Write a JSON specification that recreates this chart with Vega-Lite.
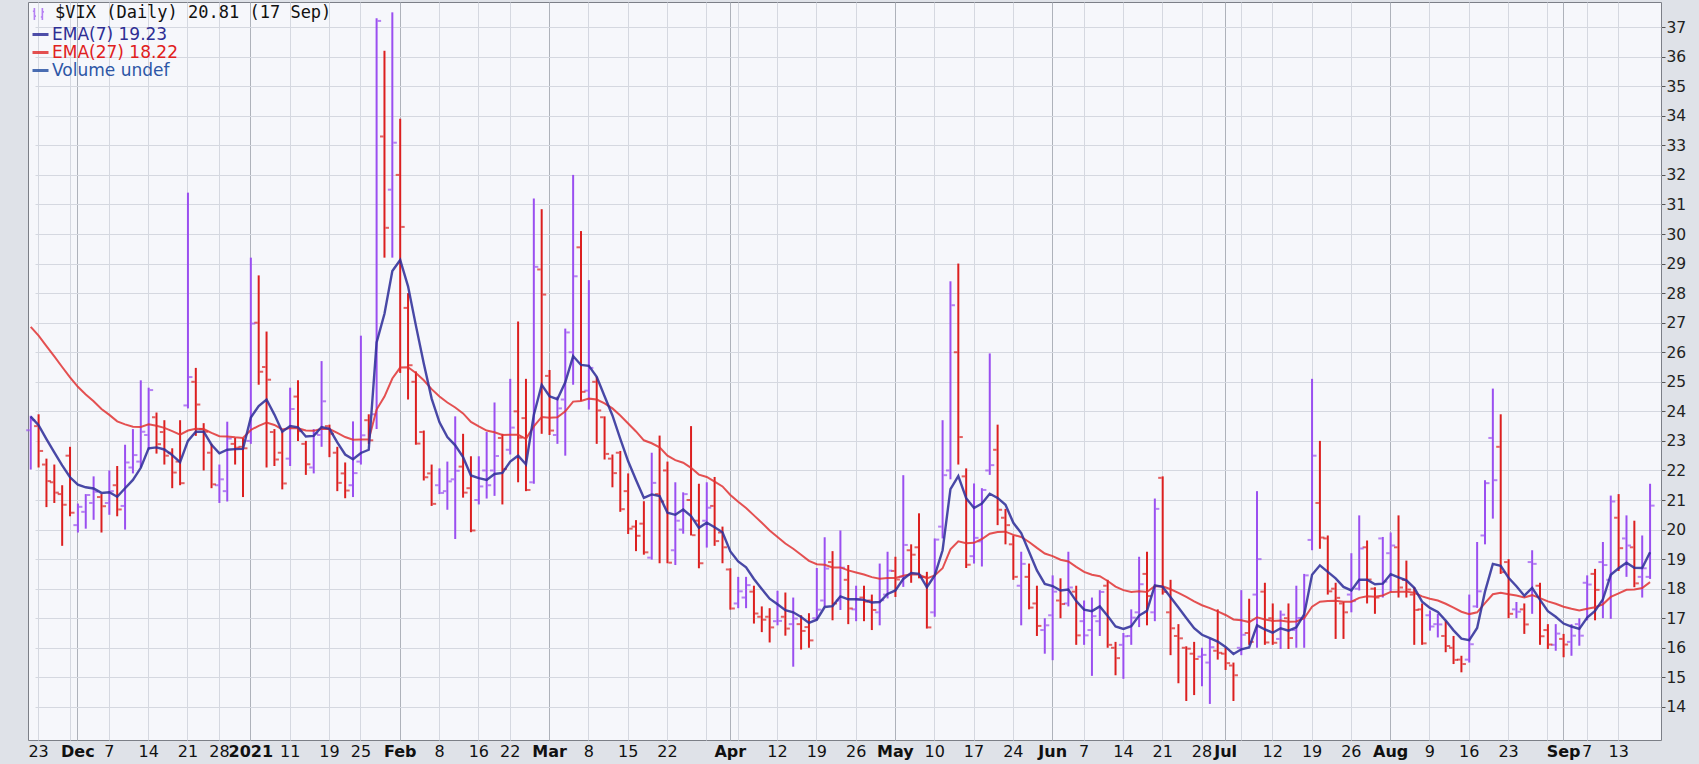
{
"$schema": "https://vega.github.io/schema/vega-lite/v6.json",
"width": 1633,
"height": 738,
"autosize": {"type": "none"},
"padding": {"left": 28, "top": 2, "right": 38, "bottom": 24},
"background": "#dfe2e8",
"config": {"view": {"fill": "#f6f7fb", "stroke": "#7c7f87", "strokeWidth": 1}, "axisY": {"labelOverlap": false}, "axis": {"labelOverlap": false}},
"data": {"values": [
{"date":"2020-11-20","o":23.36,"h":23.85,"l":22.03,"c":23.7,"ema7":23.82,"ema27":26.86,"dir":"up"},
{"date":"2020-11-23","o":23.5,"h":23.9,"l":22.1,"c":22.66,"ema7":23.53,"ema27":26.56,"dir":"down"},
{"date":"2020-11-24","o":22.2,"h":22.4,"l":20.76,"c":21.64,"ema7":23.06,"ema27":26.21,"dir":"down"},
{"date":"2020-11-25","o":21.6,"h":22.2,"l":20.9,"c":21.25,"ema7":22.61,"ema27":25.86,"dir":"down"},
{"date":"2020-11-27","o":21.2,"h":21.5,"l":19.45,"c":20.84,"ema7":22.17,"ema27":25.5,"dir":"down"},
{"date":"2020-11-30","o":22.5,"h":22.8,"l":20.45,"c":20.57,"ema7":21.77,"ema27":25.15,"dir":"down"},
{"date":"2020-12-01","o":20.15,"h":20.88,"l":19.9,"c":20.77,"ema7":21.52,"ema27":24.83,"dir":"up"},
{"date":"2020-12-02","o":20.6,"h":21.2,"l":20.03,"c":21.17,"ema7":21.43,"ema27":24.57,"dir":"up"},
{"date":"2020-12-03","o":20.9,"h":21.8,"l":20.33,"c":21.28,"ema7":21.39,"ema27":24.34,"dir":"up"},
{"date":"2020-12-04","o":21.1,"h":21.2,"l":19.9,"c":20.79,"ema7":21.24,"ema27":24.08,"dir":"down"},
{"date":"2020-12-07","o":20.9,"h":22.0,"l":20.5,"c":21.3,"ema7":21.26,"ema27":23.88,"dir":"up"},
{"date":"2020-12-08","o":21.5,"h":22.15,"l":20.45,"c":20.68,"ema7":21.11,"ema27":23.66,"dir":"down"},
{"date":"2020-12-09","o":20.8,"h":22.87,"l":20.0,"c":22.27,"ema7":21.4,"ema27":23.56,"dir":"up"},
{"date":"2020-12-10","o":22.1,"h":23.4,"l":21.9,"c":22.52,"ema7":21.68,"ema27":23.48,"dir":"up"},
{"date":"2020-12-11","o":22.3,"h":25.05,"l":22.1,"c":23.31,"ema7":22.09,"ema27":23.47,"dir":"up"},
{"date":"2020-12-14","o":23.2,"h":24.8,"l":22.7,"c":24.72,"ema7":22.75,"ema27":23.56,"dir":"up"},
{"date":"2020-12-15","o":23.8,"h":23.96,"l":22.57,"c":22.89,"ema7":22.78,"ema27":23.51,"dir":"down"},
{"date":"2020-12-16","o":23.3,"h":23.7,"l":22.2,"c":22.5,"ema7":22.71,"ema27":23.44,"dir":"down"},
{"date":"2020-12-17","o":22.6,"h":22.75,"l":21.4,"c":21.93,"ema7":22.52,"ema27":23.33,"dir":"down"},
{"date":"2020-12-18","o":22.3,"h":23.7,"l":21.5,"c":21.57,"ema7":22.28,"ema27":23.21,"dir":"down"},
{"date":"2020-12-21","o":24.2,"h":31.4,"l":24.1,"c":25.16,"ema7":23.0,"ema27":23.35,"dir":"up"},
{"date":"2020-12-22","o":25.0,"h":25.47,"l":23.17,"c":24.23,"ema7":23.31,"ema27":23.41,"dir":"down"},
{"date":"2020-12-23","o":23.4,"h":23.6,"l":22.0,"c":23.31,"ema7":23.31,"ema27":23.4,"dir":"down"},
{"date":"2020-12-24","o":22.6,"h":22.9,"l":21.4,"c":21.53,"ema7":22.87,"ema27":23.27,"dir":"down"},
{"date":"2020-12-28","o":21.5,"h":22.2,"l":20.9,"c":21.7,"ema7":22.58,"ema27":23.16,"dir":"up"},
{"date":"2020-12-29","o":21.3,"h":23.65,"l":20.95,"c":23.08,"ema7":22.7,"ema27":23.15,"dir":"up"},
{"date":"2020-12-30","o":22.9,"h":23.1,"l":22.2,"c":22.77,"ema7":22.72,"ema27":23.12,"dir":"down"},
{"date":"2020-12-31","o":22.8,"h":23.1,"l":21.1,"c":22.75,"ema7":22.73,"ema27":23.1,"dir":"down"},
{"date":"2021-01-04","o":23.0,"h":29.2,"l":22.9,"c":26.97,"ema7":23.79,"ema27":23.37,"dir":"up"},
{"date":"2021-01-05","o":27.0,"h":28.6,"l":24.9,"c":25.34,"ema7":24.18,"ema27":23.51,"dir":"down"},
{"date":"2021-01-06","o":25.5,"h":26.7,"l":22.1,"c":25.07,"ema7":24.4,"ema27":23.62,"dir":"down"},
{"date":"2021-01-07","o":23.3,"h":23.4,"l":22.15,"c":22.37,"ema7":23.89,"ema27":23.54,"dir":"down"},
{"date":"2021-01-08","o":22.6,"h":23.36,"l":21.36,"c":21.56,"ema7":23.31,"ema27":23.39,"dir":"down"},
{"date":"2021-01-11","o":22.4,"h":24.8,"l":22.15,"c":24.08,"ema7":23.5,"ema27":23.44,"dir":"up"},
{"date":"2021-01-12","o":24.5,"h":25.05,"l":23.0,"c":23.33,"ema7":23.46,"ema27":23.43,"dir":"down"},
{"date":"2021-01-13","o":22.9,"h":23.0,"l":21.85,"c":22.21,"ema7":23.15,"ema27":23.35,"dir":"down"},
{"date":"2021-01-14","o":22.1,"h":23.4,"l":21.9,"c":23.25,"ema7":23.17,"ema27":23.34,"dir":"up"},
{"date":"2021-01-15","o":23.2,"h":25.7,"l":22.8,"c":24.34,"ema7":23.47,"ema27":23.41,"dir":"up"},
{"date":"2021-01-19","o":23.5,"h":23.55,"l":22.45,"c":23.24,"ema7":23.41,"ema27":23.4,"dir":"down"},
{"date":"2021-01-20","o":22.6,"h":22.8,"l":21.3,"c":21.58,"ema7":22.95,"ema27":23.27,"dir":"down"},
{"date":"2021-01-21","o":21.9,"h":22.27,"l":21.06,"c":21.32,"ema7":22.54,"ema27":23.13,"dir":"down"},
{"date":"2021-01-22","o":21.5,"h":23.66,"l":21.1,"c":21.91,"ema7":22.38,"ema27":23.04,"dir":"up"},
{"date":"2021-01-25","o":22.3,"h":26.56,"l":22.2,"c":23.19,"ema7":22.59,"ema27":23.05,"dir":"up"},
{"date":"2021-01-26","o":23.7,"h":23.9,"l":22.9,"c":23.02,"ema7":22.7,"ema27":23.05,"dir":"down"},
{"date":"2021-01-27","o":23.9,"h":37.3,"l":23.4,"c":37.21,"ema7":26.33,"ema27":24.06,"dir":"up"},
{"date":"2021-01-28","o":33.3,"h":36.2,"l":29.2,"c":30.21,"ema7":27.3,"ema27":24.5,"dir":"down"},
{"date":"2021-01-29","o":31.5,"h":37.5,"l":29.2,"c":33.09,"ema7":28.75,"ema27":25.11,"dir":"up"},
{"date":"2021-02-01","o":32.0,"h":33.9,"l":25.3,"c":30.24,"ema7":29.12,"ema27":25.48,"dir":"down"},
{"date":"2021-02-02","o":27.5,"h":28.0,"l":24.4,"c":25.56,"ema7":28.23,"ema27":25.49,"dir":"down"},
{"date":"2021-02-03","o":25.0,"h":25.35,"l":22.87,"c":22.91,"ema7":26.9,"ema27":25.3,"dir":"down"},
{"date":"2021-02-04","o":23.3,"h":23.35,"l":21.66,"c":21.77,"ema7":25.62,"ema27":25.05,"dir":"down"},
{"date":"2021-02-05","o":21.9,"h":22.2,"l":20.8,"c":20.87,"ema7":24.43,"ema27":24.75,"dir":"down"},
{"date":"2021-02-08","o":21.5,"h":22.07,"l":21.2,"c":21.24,"ema7":23.63,"ema27":24.5,"dir":"up"},
{"date":"2021-02-09","o":21.3,"h":22.3,"l":20.67,"c":21.63,"ema7":23.13,"ema27":24.3,"dir":"up"},
{"date":"2021-02-10","o":21.7,"h":23.83,"l":19.68,"c":21.99,"ema7":22.85,"ema27":24.13,"dir":"up"},
{"date":"2021-02-11","o":22.13,"h":23.24,"l":21.08,"c":21.25,"ema7":22.45,"ema27":23.93,"dir":"down"},
{"date":"2021-02-12","o":21.4,"h":22.48,"l":19.91,"c":19.97,"ema7":21.83,"ema27":23.64,"dir":"down"},
{"date":"2021-02-16","o":21.0,"h":22.48,"l":20.85,"c":21.46,"ema7":21.74,"ema27":23.49,"dir":"up"},
{"date":"2021-02-17","o":22.0,"h":23.3,"l":21.05,"c":21.5,"ema7":21.68,"ema27":23.35,"dir":"up"},
{"date":"2021-02-18","o":22.0,"h":24.3,"l":21.14,"c":22.49,"ema7":21.88,"ema27":23.29,"dir":"up"},
{"date":"2021-02-19","o":23.1,"h":23.24,"l":20.85,"c":22.05,"ema7":21.92,"ema27":23.2,"dir":"down"},
{"date":"2021-02-22","o":22.7,"h":25.1,"l":22.54,"c":23.45,"ema7":22.3,"ema27":23.21,"dir":"up"},
{"date":"2021-02-23","o":24.0,"h":27.04,"l":21.6,"c":23.11,"ema7":22.5,"ema27":23.21,"dir":"down"},
{"date":"2021-02-24","o":23.77,"h":25.1,"l":21.3,"c":21.34,"ema7":22.21,"ema27":23.07,"dir":"down"},
{"date":"2021-02-25","o":21.6,"h":31.2,"l":21.55,"c":28.89,"ema7":23.88,"ema27":23.49,"dir":"up"},
{"date":"2021-02-26","o":28.8,"h":30.84,"l":23.24,"c":27.95,"ema7":24.9,"ema27":23.81,"dir":"down"},
{"date":"2021-03-01","o":25.2,"h":25.4,"l":23.2,"c":23.35,"ema7":24.51,"ema27":23.78,"dir":"down"},
{"date":"2021-03-02","o":23.2,"h":24.5,"l":22.9,"c":24.1,"ema7":24.41,"ema27":23.8,"dir":"up"},
{"date":"2021-03-03","o":24.4,"h":26.8,"l":22.5,"c":26.67,"ema7":24.98,"ema27":24.0,"dir":"up"},
{"date":"2021-03-04","o":26.0,"h":32.0,"l":24.9,"c":28.57,"ema7":25.87,"ema27":24.33,"dir":"up"},
{"date":"2021-03-05","o":29.55,"h":30.1,"l":24.35,"c":24.66,"ema7":25.57,"ema27":24.35,"dir":"down"},
{"date":"2021-03-08","o":24.7,"h":28.44,"l":24.06,"c":25.47,"ema7":25.54,"ema27":24.43,"dir":"up"},
{"date":"2021-03-09","o":25.0,"h":25.17,"l":22.9,"c":24.03,"ema7":25.17,"ema27":24.4,"dir":"down"},
{"date":"2021-03-10","o":23.8,"h":23.83,"l":22.37,"c":22.56,"ema7":24.51,"ema27":24.27,"dir":"down"},
{"date":"2021-03-11","o":22.4,"h":22.54,"l":21.43,"c":21.91,"ema7":23.86,"ema27":24.1,"dir":"down"},
{"date":"2021-03-12","o":22.6,"h":22.66,"l":20.6,"c":20.69,"ema7":23.07,"ema27":23.86,"dir":"down"},
{"date":"2021-03-15","o":21.3,"h":21.9,"l":19.85,"c":20.03,"ema7":22.31,"ema27":23.59,"dir":"down"},
{"date":"2021-03-16","o":20.1,"h":20.32,"l":19.27,"c":19.79,"ema7":21.68,"ema27":23.32,"dir":"down"},
{"date":"2021-03-17","o":20.2,"h":20.96,"l":19.15,"c":19.23,"ema7":21.07,"ema27":23.02,"dir":"down"},
{"date":"2021-03-18","o":19.05,"h":22.6,"l":18.98,"c":21.58,"ema7":21.19,"ema27":22.92,"dir":"up"},
{"date":"2021-03-19","o":21.2,"h":23.18,"l":18.86,"c":20.95,"ema7":21.13,"ema27":22.78,"dir":"down"},
{"date":"2021-03-22","o":22.0,"h":22.3,"l":18.86,"c":18.88,"ema7":20.57,"ema27":22.5,"dir":"down"},
{"date":"2021-03-23","o":19.3,"h":21.6,"l":18.8,"c":20.3,"ema7":20.5,"ema27":22.35,"dir":"up"},
{"date":"2021-03-24","o":20.0,"h":21.26,"l":19.86,"c":21.2,"ema7":20.68,"ema27":22.26,"dir":"up"},
{"date":"2021-03-25","o":21.0,"h":23.5,"l":19.8,"c":19.81,"ema7":20.46,"ema27":22.09,"dir":"down"},
{"date":"2021-03-26","o":20.3,"h":21.55,"l":18.69,"c":18.86,"ema7":20.06,"ema27":21.86,"dir":"down"},
{"date":"2021-03-29","o":20.3,"h":21.6,"l":19.39,"c":20.74,"ema7":20.23,"ema27":21.78,"dir":"up"},
{"date":"2021-03-30","o":20.8,"h":21.78,"l":19.45,"c":19.61,"ema7":20.08,"ema27":21.62,"dir":"down"},
{"date":"2021-03-31","o":19.9,"h":20.1,"l":18.86,"c":19.4,"ema7":19.91,"ema27":21.46,"dir":"down"},
{"date":"2021-04-01","o":18.65,"h":18.69,"l":17.29,"c":17.33,"ema7":19.26,"ema27":21.17,"dir":"down"},
{"date":"2021-04-05","o":17.5,"h":18.4,"l":17.34,"c":17.91,"ema7":18.92,"ema27":20.94,"dir":"up"},
{"date":"2021-04-06","o":17.7,"h":18.4,"l":17.34,"c":18.12,"ema7":18.72,"ema27":20.73,"dir":"up"},
{"date":"2021-04-07","o":17.9,"h":18.1,"l":16.82,"c":17.16,"ema7":18.33,"ema27":20.48,"dir":"down"},
{"date":"2021-04-08","o":17.05,"h":17.4,"l":16.53,"c":16.95,"ema7":17.99,"ema27":20.23,"dir":"down"},
{"date":"2021-04-09","o":17.05,"h":17.34,"l":16.18,"c":16.69,"ema7":17.66,"ema27":19.97,"dir":"down"},
{"date":"2021-04-12","o":16.9,"h":17.93,"l":16.76,"c":16.91,"ema7":17.47,"ema27":19.75,"dir":"up"},
{"date":"2021-04-13","o":17.05,"h":17.87,"l":16.41,"c":16.65,"ema7":17.27,"ema27":19.53,"dir":"down"},
{"date":"2021-04-14","o":16.8,"h":17.7,"l":15.36,"c":16.99,"ema7":17.2,"ema27":19.35,"dir":"up"},
{"date":"2021-04-15","o":16.8,"h":17.1,"l":15.94,"c":16.57,"ema7":17.04,"ema27":19.15,"dir":"down"},
{"date":"2021-04-16","o":16.7,"h":17.17,"l":16.0,"c":16.25,"ema7":16.84,"ema27":18.94,"dir":"down"},
{"date":"2021-04-19","o":17.0,"h":18.7,"l":16.93,"c":17.29,"ema7":16.95,"ema27":18.83,"dir":"up"},
{"date":"2021-04-20","o":17.6,"h":19.74,"l":17.4,"c":18.68,"ema7":17.38,"ema27":18.81,"dir":"up"},
{"date":"2021-04-21","o":18.9,"h":19.27,"l":16.93,"c":17.5,"ema7":17.41,"ema27":18.72,"dir":"down"},
{"date":"2021-04-22","o":17.6,"h":19.97,"l":17.28,"c":18.71,"ema7":17.74,"ema27":18.72,"dir":"up"},
{"date":"2021-04-23","o":18.3,"h":18.8,"l":16.8,"c":17.33,"ema7":17.64,"ema27":18.62,"dir":"down"},
{"date":"2021-04-26","o":17.3,"h":18.1,"l":16.9,"c":17.64,"ema7":17.64,"ema27":18.55,"dir":"up"},
{"date":"2021-04-27","o":17.7,"h":18.1,"l":16.9,"c":17.56,"ema7":17.62,"ema27":18.48,"dir":"down"},
{"date":"2021-04-28","o":17.6,"h":17.8,"l":16.6,"c":17.28,"ema7":17.53,"ema27":18.39,"dir":"down"},
{"date":"2021-04-29","o":17.2,"h":18.85,"l":16.76,"c":17.61,"ema7":17.55,"ema27":18.34,"dir":"up"},
{"date":"2021-04-30","o":17.8,"h":19.25,"l":17.67,"c":18.61,"ema7":17.82,"ema27":18.36,"dir":"up"},
{"date":"2021-05-03","o":18.6,"h":19.08,"l":17.72,"c":18.31,"ema7":17.94,"ema27":18.36,"dir":"down"},
{"date":"2021-05-04","o":18.4,"h":21.84,"l":18.06,"c":19.48,"ema7":18.33,"ema27":18.44,"dir":"up"},
{"date":"2021-05-05","o":19.3,"h":19.5,"l":18.2,"c":19.15,"ema7":18.53,"ema27":18.49,"dir":"down"},
{"date":"2021-05-06","o":19.4,"h":20.55,"l":18.35,"c":18.39,"ema7":18.5,"ema27":18.48,"dir":"down"},
{"date":"2021-05-07","o":18.4,"h":18.57,"l":16.65,"c":16.69,"ema7":18.05,"ema27":18.35,"dir":"down"},
{"date":"2021-05-10","o":17.2,"h":19.7,"l":17.05,"c":19.66,"ema7":18.45,"ema27":18.45,"dir":"up"},
{"date":"2021-05-11","o":20.1,"h":23.7,"l":19.7,"c":21.84,"ema7":19.3,"ema27":18.69,"dir":"up"},
{"date":"2021-05-12","o":22.0,"h":28.4,"l":21.7,"c":27.59,"ema7":21.37,"ema27":19.33,"dir":"up"},
{"date":"2021-05-13","o":26.0,"h":29.0,"l":22.2,"c":23.13,"ema7":21.81,"ema27":19.6,"dir":"down"},
{"date":"2021-05-14","o":21.8,"h":22.07,"l":18.7,"c":18.81,"ema7":21.06,"ema27":19.54,"dir":"down"},
{"date":"2021-05-17","o":19.1,"h":21.56,"l":18.85,"c":19.72,"ema7":20.73,"ema27":19.55,"dir":"up"},
{"date":"2021-05-18","o":19.6,"h":21.4,"l":18.75,"c":21.34,"ema7":20.88,"ema27":19.68,"dir":"up"},
{"date":"2021-05-19","o":22.0,"h":25.96,"l":21.85,"c":22.18,"ema7":21.21,"ema27":19.86,"dir":"up"},
{"date":"2021-05-20","o":22.7,"h":23.55,"l":20.15,"c":20.67,"ema7":21.07,"ema27":19.92,"dir":"down"},
{"date":"2021-05-21","o":20.4,"h":20.7,"l":19.5,"c":20.15,"ema7":20.84,"ema27":19.93,"dir":"down"},
{"date":"2021-05-24","o":19.5,"h":19.8,"l":18.3,"c":18.4,"ema7":20.23,"ema27":19.82,"dir":"down"},
{"date":"2021-05-25","o":18.1,"h":19.25,"l":16.76,"c":18.84,"ema7":19.88,"ema27":19.75,"dir":"up"},
{"date":"2021-05-26","o":18.4,"h":18.85,"l":17.3,"c":17.36,"ema7":19.25,"ema27":19.58,"dir":"down"},
{"date":"2021-05-27","o":17.5,"h":18.1,"l":16.4,"c":16.74,"ema7":18.62,"ema27":19.38,"dir":"down"},
{"date":"2021-05-28","o":16.6,"h":17.0,"l":15.8,"c":16.76,"ema7":18.16,"ema27":19.19,"dir":"up"},
{"date":"2021-06-01","o":17.1,"h":18.45,"l":15.58,"c":17.9,"ema7":18.09,"ema27":19.1,"dir":"up"},
{"date":"2021-06-02","o":17.6,"h":18.35,"l":17.0,"c":17.48,"ema7":17.94,"ema27":18.98,"dir":"down"},
{"date":"2021-06-03","o":17.5,"h":19.25,"l":17.4,"c":18.04,"ema7":17.97,"ema27":18.92,"dir":"up"},
{"date":"2021-06-04","o":17.9,"h":18.1,"l":16.1,"c":16.42,"ema7":17.58,"ema27":18.74,"dir":"down"},
{"date":"2021-06-07","o":16.9,"h":17.6,"l":16.1,"c":16.42,"ema7":17.29,"ema27":18.57,"dir":"up"},
{"date":"2021-06-08","o":16.6,"h":17.7,"l":15.05,"c":17.07,"ema7":17.24,"ema27":18.47,"dir":"up"},
{"date":"2021-06-09","o":16.9,"h":17.95,"l":16.4,"c":17.89,"ema7":17.4,"ema27":18.42,"dir":"up"},
{"date":"2021-06-10","o":18.1,"h":18.3,"l":16.0,"c":16.1,"ema7":17.08,"ema27":18.26,"dir":"down"},
{"date":"2021-06-11","o":16.0,"h":16.2,"l":15.07,"c":15.65,"ema7":16.72,"ema27":18.07,"dir":"down"},
{"date":"2021-06-14","o":16.1,"h":16.5,"l":14.95,"c":16.39,"ema7":16.64,"ema27":17.95,"dir":"up"},
{"date":"2021-06-15","o":16.4,"h":17.3,"l":16.1,"c":17.02,"ema7":16.73,"ema27":17.89,"dir":"up"},
{"date":"2021-06-16","o":17.2,"h":19.08,"l":16.7,"c":18.15,"ema7":17.09,"ema27":17.91,"dir":"up"},
{"date":"2021-06-17","o":18.5,"h":19.25,"l":16.76,"c":17.75,"ema7":17.25,"ema27":17.89,"dir":"down"},
{"date":"2021-06-18","o":17.2,"h":21.05,"l":16.9,"c":20.7,"ema7":18.11,"ema27":18.09,"dir":"up"},
{"date":"2021-06-21","o":21.75,"h":21.8,"l":17.8,"c":17.89,"ema7":18.06,"ema27":18.08,"dir":"down"},
{"date":"2021-06-22","o":17.2,"h":18.3,"l":15.75,"c":16.66,"ema7":17.71,"ema27":17.98,"dir":"down"},
{"date":"2021-06-23","o":16.4,"h":16.8,"l":14.8,"c":16.32,"ema7":17.36,"ema27":17.86,"dir":"down"},
{"date":"2021-06-24","o":16.0,"h":16.05,"l":14.2,"c":15.97,"ema7":17.01,"ema27":17.72,"dir":"down"},
{"date":"2021-06-25","o":15.8,"h":16.2,"l":14.4,"c":15.62,"ema7":16.66,"ema27":17.57,"dir":"down"},
{"date":"2021-06-28","o":15.7,"h":16.0,"l":14.7,"c":15.76,"ema7":16.44,"ema27":17.44,"dir":"up"},
{"date":"2021-06-29","o":15.5,"h":16.3,"l":14.1,"c":16.02,"ema7":16.33,"ema27":17.34,"dir":"up"},
{"date":"2021-06-30","o":15.9,"h":17.3,"l":15.6,"c":15.83,"ema7":16.21,"ema27":17.23,"dir":"down"},
{"date":"2021-07-01","o":15.8,"h":16.0,"l":15.25,"c":15.48,"ema7":16.03,"ema27":17.11,"dir":"down"},
{"date":"2021-07-02","o":15.4,"h":15.5,"l":14.2,"c":15.07,"ema7":15.79,"ema27":16.96,"dir":"down"},
{"date":"2021-07-06","o":16.0,"h":17.95,"l":15.75,"c":16.44,"ema7":15.95,"ema27":16.93,"dir":"up"},
{"date":"2021-07-07","o":16.5,"h":17.66,"l":16.1,"c":16.2,"ema7":16.01,"ema27":16.87,"dir":"down"},
{"date":"2021-07-08","o":17.8,"h":21.3,"l":16.0,"c":19.0,"ema7":16.76,"ema27":17.03,"dir":"up"},
{"date":"2021-07-09","o":17.9,"h":18.2,"l":16.1,"c":16.18,"ema7":16.62,"ema27":16.96,"dir":"down"},
{"date":"2021-07-12","o":17.0,"h":17.5,"l":16.1,"c":16.17,"ema7":16.51,"ema27":16.91,"dir":"down"},
{"date":"2021-07-13","o":16.3,"h":17.26,"l":15.96,"c":17.12,"ema7":16.66,"ema27":16.92,"dir":"up"},
{"date":"2021-07-14","o":17.0,"h":17.5,"l":15.96,"c":16.33,"ema7":16.58,"ema27":16.88,"dir":"down"},
{"date":"2021-07-15","o":16.6,"h":18.1,"l":16.0,"c":17.01,"ema7":16.69,"ema27":16.89,"dir":"up"},
{"date":"2021-07-16","o":17.0,"h":18.5,"l":16.0,"c":18.45,"ema7":17.13,"ema27":17.0,"dir":"up"},
{"date":"2021-07-19","o":19.65,"h":25.1,"l":19.3,"c":22.5,"ema7":18.47,"ema27":17.39,"dir":"up"},
{"date":"2021-07-20","o":20.9,"h":23.0,"l":19.35,"c":19.73,"ema7":18.79,"ema27":17.56,"dir":"down"},
{"date":"2021-07-21","o":19.7,"h":19.8,"l":17.8,"c":17.91,"ema7":18.57,"ema27":17.58,"dir":"down"},
{"date":"2021-07-22","o":18.0,"h":18.2,"l":16.3,"c":17.69,"ema7":18.35,"ema27":17.59,"dir":"down"},
{"date":"2021-07-23","o":17.5,"h":17.55,"l":16.3,"c":17.2,"ema7":18.06,"ema27":17.56,"dir":"down"},
{"date":"2021-07-26","o":17.8,"h":19.2,"l":17.2,"c":17.58,"ema7":17.94,"ema27":17.56,"dir":"up"},
{"date":"2021-07-27","o":18.0,"h":20.48,"l":17.94,"c":19.36,"ema7":18.3,"ema27":17.69,"dir":"up"},
{"date":"2021-07-28","o":19.4,"h":19.63,"l":17.5,"c":18.31,"ema7":18.3,"ema27":17.74,"dir":"down"},
{"date":"2021-07-29","o":18.0,"h":18.05,"l":17.15,"c":17.7,"ema7":18.15,"ema27":17.73,"dir":"down"},
{"date":"2021-07-30","o":19.7,"h":19.75,"l":17.7,"c":18.24,"ema7":18.17,"ema27":17.77,"dir":"up"},
{"date":"2021-08-02","o":19.2,"h":19.9,"l":17.9,"c":19.46,"ema7":18.49,"ema27":17.89,"dir":"up"},
{"date":"2021-08-03","o":19.4,"h":20.48,"l":17.7,"c":18.04,"ema7":18.38,"ema27":17.9,"dir":"down"},
{"date":"2021-08-04","o":18.3,"h":18.95,"l":17.7,"c":17.97,"ema7":18.28,"ema27":17.9,"dir":"down"},
{"date":"2021-08-05","o":17.8,"h":18.05,"l":16.1,"c":17.28,"ema7":18.03,"ema27":17.86,"dir":"down"},
{"date":"2021-08-06","o":17.3,"h":17.5,"l":16.1,"c":16.15,"ema7":17.56,"ema27":17.74,"dir":"down"},
{"date":"2021-08-09","o":17.1,"h":17.26,"l":16.58,"c":16.72,"ema7":17.35,"ema27":17.66,"dir":"up"},
{"date":"2021-08-10","o":16.8,"h":17.15,"l":16.35,"c":16.79,"ema7":17.21,"ema27":17.6,"dir":"up"},
{"date":"2021-08-11","o":16.4,"h":16.9,"l":15.85,"c":16.06,"ema7":16.92,"ema27":17.49,"dir":"down"},
{"date":"2021-08-12","o":16.0,"h":16.4,"l":15.45,"c":15.59,"ema7":16.59,"ema27":17.36,"dir":"down"},
{"date":"2021-08-13","o":15.6,"h":15.73,"l":15.17,"c":15.45,"ema7":16.31,"ema27":17.22,"dir":"down"},
{"date":"2021-08-16","o":15.6,"h":17.8,"l":15.5,"c":16.12,"ema7":16.26,"ema27":17.14,"dir":"up"},
{"date":"2021-08-17","o":17.4,"h":19.58,"l":17.35,"c":17.91,"ema7":16.67,"ema27":17.2,"dir":"up"},
{"date":"2021-08-18","o":19.8,"h":21.67,"l":19.5,"c":21.57,"ema7":17.9,"ema27":17.51,"dir":"up"},
{"date":"2021-08-19","o":23.1,"h":24.77,"l":20.37,"c":21.67,"ema7":18.84,"ema27":17.81,"dir":"up"},
{"date":"2021-08-20","o":22.8,"h":23.9,"l":18.5,"c":18.56,"ema7":18.77,"ema27":17.86,"dir":"down"},
{"date":"2021-08-23","o":18.9,"h":19.0,"l":17.0,"c":17.15,"ema7":18.37,"ema27":17.81,"dir":"down"},
{"date":"2021-08-24","o":17.3,"h":17.55,"l":17.0,"c":17.22,"ema7":18.08,"ema27":17.77,"dir":"up"},
{"date":"2021-08-25","o":17.3,"h":17.5,"l":16.47,"c":16.79,"ema7":17.76,"ema27":17.7,"dir":"down"},
{"date":"2021-08-26","o":18.9,"h":19.3,"l":17.15,"c":18.84,"ema7":18.03,"ema27":17.78,"dir":"up"},
{"date":"2021-08-27","o":18.1,"h":18.2,"l":16.1,"c":16.39,"ema7":17.62,"ema27":17.68,"dir":"down"},
{"date":"2021-08-30","o":16.6,"h":16.8,"l":15.96,"c":16.11,"ema7":17.24,"ema27":17.57,"dir":"down"},
{"date":"2021-08-31","o":16.1,"h":16.8,"l":15.9,"c":16.48,"ema7":17.05,"ema27":17.49,"dir":"up"},
{"date":"2021-09-01","o":16.3,"h":16.47,"l":15.68,"c":16.11,"ema7":16.82,"ema27":17.39,"dir":"down"},
{"date":"2021-09-02","o":16.2,"h":16.8,"l":15.73,"c":16.41,"ema7":16.72,"ema27":17.32,"dir":"up"},
{"date":"2021-09-03","o":16.8,"h":17.0,"l":16.07,"c":16.41,"ema7":16.64,"ema27":17.26,"dir":"up"},
{"date":"2021-09-07","o":18.2,"h":18.45,"l":16.93,"c":18.14,"ema7":17.02,"ema27":17.32,"dir":"up"},
{"date":"2021-09-08","o":18.5,"h":18.67,"l":16.93,"c":17.96,"ema7":17.25,"ema27":17.37,"dir":"down"},
{"date":"2021-09-09","o":18.9,"h":19.58,"l":17.0,"c":18.8,"ema7":17.64,"ema27":17.47,"dir":"up"},
{"date":"2021-09-10","o":18.3,"h":21.15,"l":16.98,"c":20.95,"ema7":18.47,"ema27":17.72,"dir":"up"},
{"date":"2021-09-13","o":20.4,"h":21.2,"l":18.6,"c":19.37,"ema7":18.69,"ema27":17.84,"dir":"down"},
{"date":"2021-09-14","o":19.7,"h":20.48,"l":18.4,"c":19.46,"ema7":18.88,"ema27":17.96,"dir":"up"},
{"date":"2021-09-15","o":19.4,"h":20.3,"l":18.05,"c":18.18,"ema7":18.71,"ema27":17.97,"dir":"down"},
{"date":"2021-09-16","o":18.4,"h":19.8,"l":17.7,"c":18.69,"ema7":18.7,"ema27":18.02,"dir":"up"},
{"date":"2021-09-17","o":18.4,"h":21.55,"l":18.33,"c":20.81,"ema7":19.23,"ema27":18.22,"dir":"up"}
]},
"encoding": {
  "x": {"field": "date", "type": "ordinal",
    "scale": {"type": "band", "range": [-1.2, 1626], "paddingInner": 0, "paddingOuter": 0},
    "axis": {
      "title": null,
      "values": ["2020-11-23","2020-11-30","2020-12-01","2020-12-07","2020-12-14","2020-12-21","2020-12-28","2021-01-04","2021-01-11","2021-01-19","2021-01-25","2021-02-01","2021-02-08","2021-02-16","2021-02-22","2021-03-01","2021-03-08","2021-03-15","2021-03-22","2021-03-29","2021-04-01","2021-04-05","2021-04-12","2021-04-19","2021-04-26","2021-05-03","2021-05-10","2021-05-17","2021-05-24","2021-06-01","2021-06-07","2021-06-14","2021-06-21","2021-06-28","2021-07-01","2021-07-06","2021-07-12","2021-07-19","2021-07-26","2021-08-02","2021-08-09","2021-08-16","2021-08-23","2021-08-30","2021-09-01","2021-09-07","2021-09-13"],
      "labelExpr": "indexof(['2020-11-30','2021-03-29','2021-04-05','2021-07-06','2021-08-30'], datum.value) >= 0 ? '' : datum.value == '2021-01-04' ? '2021' : indexof(['2020-12-01','2021-02-01','2021-03-01','2021-04-01','2021-05-03','2021-06-01','2021-07-01','2021-08-02','2021-09-01'], datum.value) >= 0 ? utcFormat(toDate(datum.value), '%b') : '' + toNumber(slice(datum.value, 8))",
      "labelFontWeight": {"condition": {"test": "indexof(['2020-12-01','2021-01-04','2021-02-01','2021-03-01','2021-04-01','2021-05-03','2021-06-01','2021-07-01','2021-08-02','2021-09-01'], datum.value) >= 0", "value": "bold"}, "value": "normal"},
      "gridColor": {"condition": {"test": "indexof(['2020-12-01','2021-01-04','2021-02-01','2021-03-01','2021-04-01','2021-05-03','2021-06-01','2021-07-01','2021-08-02','2021-09-01'], datum.value) >= 0", "value": "#aeb2ba"}, "value": "#d5d8e0"},
      "grid": true, "ticks": false, "domain": false, "labelAngle": 0, "bandPosition": 0.5,
      "labelFont": "DejaVu Sans", "labelFontSize": 16, "labelColor": "#111111", "labelPadding": 3,
      "labelOverlap": false, "labelBound": false, "labelFlush": false
    }
  }
},
"layer": [
  {"mark": {"type": "rule", "strokeWidth": 2},
   "encoding": {
     "y": {"field": "l", "type": "quantitative", "scale": {"domain": [12.88, 37.85], "nice": false, "zero": false},
       "axis": {"orient": "right", "title": null, "values": [14,15,16,17,18,19,20,21,22,23,24,25,26,27,28,29,30,31,32,33,34,35,36,37], "format": "d", "labelOverlap": false, "labelSeparation": 0, "labelBound": false, "grid": true, "gridColor": "#d5d8e0", "ticks": true, "tickSize": 4, "tickColor": "#555555", "domain": false, "labelFont": "DejaVu Sans", "labelFontSize": 15.5, "labelColor": "#222222", "labelPadding": 1}},
     "y2": {"field": "h"},
     "color": {"field": "dir", "type": "nominal", "scale": {"domain": ["up", "down"], "range": ["#9a4ff0", "#dc1f1f"]},
       "legend": {"values": ["up"], "title": null, "orient": "none", "legendX": 4, "legendY": 5, "labelExpr": "''", "labelOffset": 0, "padding": 0,
         "symbolType": "M-0.75,-1V1M-1,-0.45H-0.75M-0.75,0.35H-0.5M0.55,-1V1M0.3,0.5H0.55M0.55,-0.35H0.8",
         "symbolSize": 150, "symbolStrokeWidth": 1.6, "symbolFillColor": "transparent", "symbolStrokeColor": "#9a4ff0"}}
   }},
  {"mark": {"type": "tick", "orient": "horizontal", "size": 3.5, "thickness": 2, "xOffset": -2.75},
   "encoding": {
     "y": {"field": "o", "type": "quantitative",
       "axis": {"orient": "right", "title": null, "values": [14,15,16,17,18,19,20,21,22,23,24,25,26,27,28,29,30,31,32,33,34,35,36,37], "format": "d", "labelOverlap": false, "labelSeparation": 0, "labelBound": false, "grid": true, "gridColor": "#d5d8e0", "ticks": true, "tickSize": 4, "tickColor": "#555555", "domain": false, "labelFont": "DejaVu Sans", "labelFontSize": 15.5, "labelColor": "#222222", "labelPadding": 1}},
     "color": {"field": "dir", "type": "nominal"}
   }},
  {"mark": {"type": "tick", "orient": "horizontal", "size": 3.5, "thickness": 2, "xOffset": 2.75},
   "encoding": {
     "y": {"field": "c", "type": "quantitative",
       "axis": {"orient": "right", "title": null, "values": [14,15,16,17,18,19,20,21,22,23,24,25,26,27,28,29,30,31,32,33,34,35,36,37], "format": "d", "labelOverlap": false, "labelSeparation": 0, "labelBound": false, "grid": true, "gridColor": "#d5d8e0", "ticks": true, "tickSize": 4, "tickColor": "#555555", "domain": false, "labelFont": "DejaVu Sans", "labelFontSize": 15.5, "labelColor": "#222222", "labelPadding": 1}},
     "color": {"field": "dir", "type": "nominal"}
   }},
  {"mark": {"type": "line", "strokeWidth": 2, "opacity": 0.85},
   "encoding": {
     "y": {"field": "ema27", "type": "quantitative",
       "axis": {"orient": "right", "title": null, "values": [14,15,16,17,18,19,20,21,22,23,24,25,26,27,28,29,30,31,32,33,34,35,36,37], "format": "d", "labelOverlap": false, "labelSeparation": 0, "labelBound": false, "grid": true, "gridColor": "#d5d8e0", "ticks": true, "tickSize": 4, "tickColor": "#555555", "domain": false, "labelFont": "DejaVu Sans", "labelFontSize": 15.5, "labelColor": "#222222", "labelPadding": 1}},
     "stroke": {"datum": "EMA(27) 18.22", "type": "nominal",
       "scale": {"domain": ["EMA(7) 19.23", "EMA(27) 18.22", "Volume undef"], "range": ["#30309a", "#e03232", "#2d56a6"]},
       "legend": {"title": "\u2800\u2800$VIX (Daily) 20.81 (17 Sep)", "titleFont": "DejaVu Sans Mono", "titleFontSize": 17, "titleFontWeight": "normal", "titleColor": "#111111", "titlePadding": 3, "titleLimit": 600,
         "orient": "none", "legendX": 3, "legendY": 3, "direction": "vertical", "symbolType": "stroke", "symbolSize": 256, "symbolStrokeWidth": 3, "labelFont": "DejaVu Sans", "labelFontSize": 17, "labelOffset": 2, "rowPadding": 0, "padding": 0, "labelLimit": 400,
         "labelColor": {"expr": "datum.label == 'EMA(7) 19.23' ? '#2e2e94' : datum.label == 'EMA(27) 18.22' ? '#e02020' : '#2d56a6'"}}}
   }},
  {"mark": {"type": "line", "strokeWidth": 2.4, "opacity": 0.88},
   "encoding": {
     "y": {"field": "ema7", "type": "quantitative",
       "axis": {"orient": "right", "title": null, "values": [14,15,16,17,18,19,20,21,22,23,24,25,26,27,28,29,30,31,32,33,34,35,36,37], "format": "d", "labelOverlap": false, "labelSeparation": 0, "labelBound": false, "grid": true, "gridColor": "#d5d8e0", "ticks": true, "tickSize": 4, "tickColor": "#555555", "domain": false, "labelFont": "DejaVu Sans", "labelFontSize": 15.5, "labelColor": "#222222", "labelPadding": 1}},
     "stroke": {"datum": "EMA(7) 19.23", "type": "nominal"}
   }}
]
}
